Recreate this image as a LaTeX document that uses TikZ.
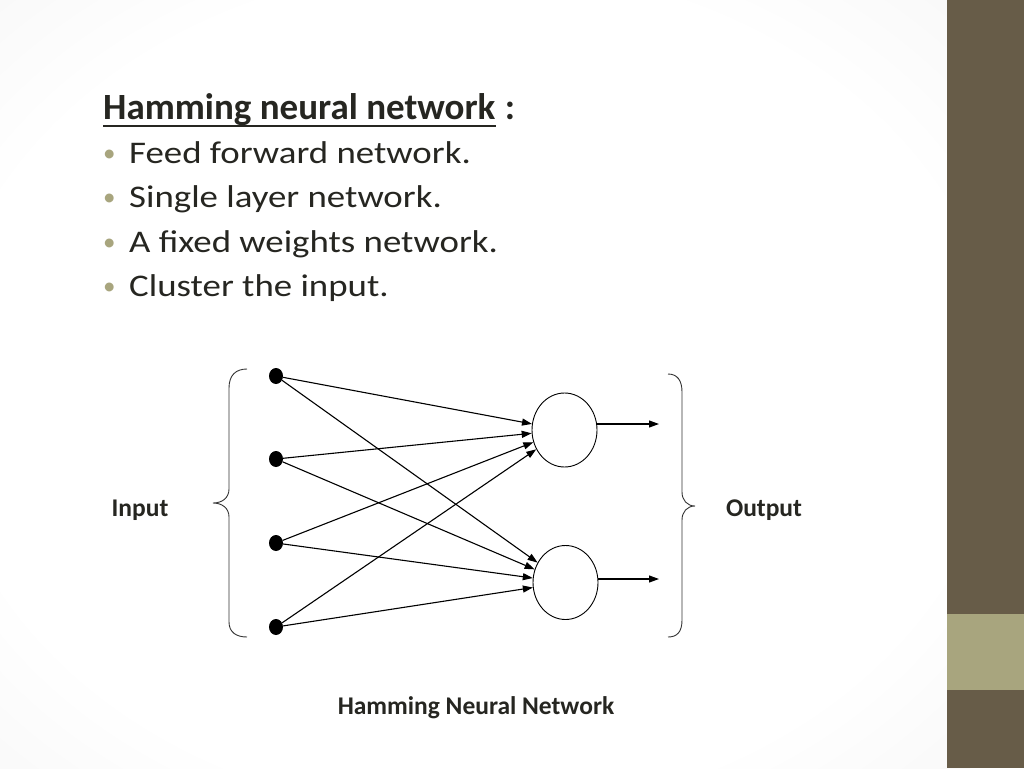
\documentclass[tikz,border=0pt]{standalone}
\usepackage{fontspec}
\setmainfont{Carlito}
\usetikzlibrary{arrows.meta,shapes.geometric}
\definecolor{txt}{HTML}{262621}
\definecolor{bul}{HTML}{A8A57E}
\definecolor{band}{HTML}{675C48}
\definecolor{bandlight}{HTML}{A8A57E}
\definecolor{vigA}{HTML}{FFFFFF}
\definecolor{vigB}{HTML}{EDEDED}
\definecolor{vigC}{HTML}{D8D8D8}
\pgfdeclareradialshading{vign}{\pgfpoint{0bp}{0bp}}{color(0bp)=(vigA); color(26bp)=(vigA); color(50bp)=(vigB); color(72bp)=(vigC)}
\begin{document}
\begin{tikzpicture}[x=1pt,y=-1pt,
  titletext/.style={anchor=base west,inner sep=0pt,text=txt,font=\fontsize{37}{42}\selectfont\bfseries},
  bodytext/.style={anchor=base west,inner sep=0pt,text=txt,font=\fontsize{31.5}{36}\selectfont,xscale=1.17,transform shape},
  bullet/.style={anchor=base west,inner sep=0pt,text=bul,font=\fontsize{25}{30}\selectfont},
  label/.style={inner sep=0pt,text=txt,font=\fontsize{25.5}{30}\selectfont\bfseries},
  indot/.style={ellipse,fill=black,minimum width=14pt,minimum height=16pt,inner sep=0pt},
  neuron/.style={ellipse,draw=black,line width=0.9pt,fill=white,minimum width=65pt,minimum height=74pt,inner sep=0pt},
  conn/.style={line width=1.1pt,-{Triangle[length=10pt,width=7pt]}},
  bracepath/.style={line width=0.9pt,draw=black!80}]
\useasboundingbox (0,0) rectangle (1024,768);
% background
\shade[shading=vign] (-30,-10) rectangle (970,790);
\fill[band] (947,0) rectangle (1024,768);
\fill[bandlight] (947,614) rectangle (1024,690);
% text
\node[titletext] (title) at (103,119) {Hamming neural network};
\node[titletext] (colon) at ([xshift=9pt]title.base east) {:};
\draw[txt,line width=1.4pt] ([yshift=-7pt]title.base west) -- ([yshift=-7pt]title.base east);
\node[bullet] (b1) at (103,161) {•};
\node[bullet] (b2) at (103,205.5) {•};
\node[bullet] (b3) at (103,250) {•};
\node[bullet] (b4) at (103,294.5) {•};
\node[bodytext] (l1) at (129,163) {Feed forward network.};
\node[bodytext] (l2) at (129,207.5) {Single layer network.};
\node[bodytext] (l3) at (129,252) {A fixed weights network.};
\node[bodytext] (l4) at (129,296.5) {Cluster the input.};
% network
\node[indot] (i1) at (276,376) {};
\node[indot] (i2) at (276,459) {};
\node[indot] (i3) at (276,543) {};
\node[indot] (i4) at (276,627) {};
\node[neuron] (o1) at (564.5,430) {};
\node[neuron] (o2) at (565.5,582.5) {};
\foreach \i in {1,2,3,4}{
  \draw[conn] (i\i) -- (o1);
  \draw[conn] (i\i) -- (o2);
}
\coordinate (e1) at (659,424);
\coordinate (e2) at (659,579);
\draw[conn] (o1.east |- e1) -- (e1);
\draw[conn] (o2.east |- e2) -- (e2);
% braces
\draw[bracepath] (247,369) .. controls (236,369) and (229,375) .. (229,388) -- (229,489) .. controls (229,498) and (222,503) .. (213,503) .. controls (222,503) and (229,508) .. (229,517) -- (229,622) .. controls (229,632) and (236,637) .. (247,637);
\draw[bracepath] (668,374) .. controls (677,374) and (682,380) .. (682,392) -- (682,492) .. controls (682,500) and (687,506) .. (695,506) .. controls (687,506) and (682,512) .. (682,520) -- (682,620) .. controls (682,632) and (677,637) .. (668,637);
% labels
\node[label] (inlab) at (140,510) {Input};
\node[label] (outlab) at (764,510) {Output};
\node[label] (cap) at (476,708) {Hamming Neural Network};
\end{tikzpicture}
\end{document}
